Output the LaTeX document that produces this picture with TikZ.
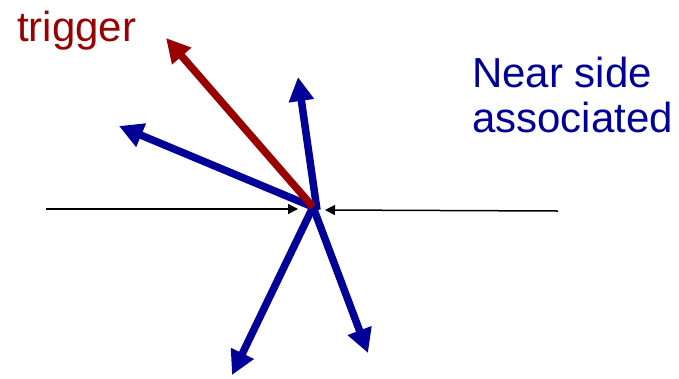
\documentclass[tikz,border=0pt]{standalone}
\usepackage{fontspec}
\setmainfont{Liberation Sans}
\usetikzlibrary{arrows.meta}
\definecolor{trigred}{HTML}{990000}
\definecolor{assocblue}{HTML}{000099}
\begin{document}
\begin{tikzpicture}[x=1pt,y=-1pt,
  bigarrow/.style={line width=7.5pt,-{Triangle[length=24pt,width=24pt]}},
  trigarrow/.style={bigarrow,draw=trigred,fill=trigred},
  assocarrow/.style={bigarrow,draw=assocblue,fill=assocblue},
  beamline/.style={line width=1.5pt,draw=black,-{Triangle[length=10pt,width=10pt]}},
  label/.style={inner sep=0pt,anchor=base west,font=\fontsize{42}{45}\selectfont}]
\useasboundingbox (0,0) rectangle (679,378);
% vertex and end points
\coordinate (C) at (313,207);
\coordinate (Cup) at (317,210);
\coordinate (trigtip) at (166,38);
\coordinate (ultip) at (119,126);
\coordinate (uptip) at (298,77);
\coordinate (dltip) at (232,375);
\coordinate (drtip) at (368,353);
\coordinate (beamL) at (46,209);
\coordinate (beamLtip) at (298,209);
\coordinate (beamR) at (558,211);
\coordinate (beamRtip) at (325,210);
% beams
\draw[beamline] (beamL) -- (beamLtip);
\draw[beamline] (beamR) -- (beamRtip);
% particles
\draw[assocarrow] (C) -- (ultip);
\draw[assocarrow] (C) -- (dltip);
\draw[assocarrow] (C) -- (drtip);
\draw[assocarrow] (Cup) -- (uptip);
\draw[trigarrow] (C) -- (trigtip);
% labels
\node[label,text=trigred] (trig) at (17,41) {trigger};
\node[label,text=assocblue,align=left] (near) at (472,132) {Near side\\associated};
\end{tikzpicture}
\end{document}
